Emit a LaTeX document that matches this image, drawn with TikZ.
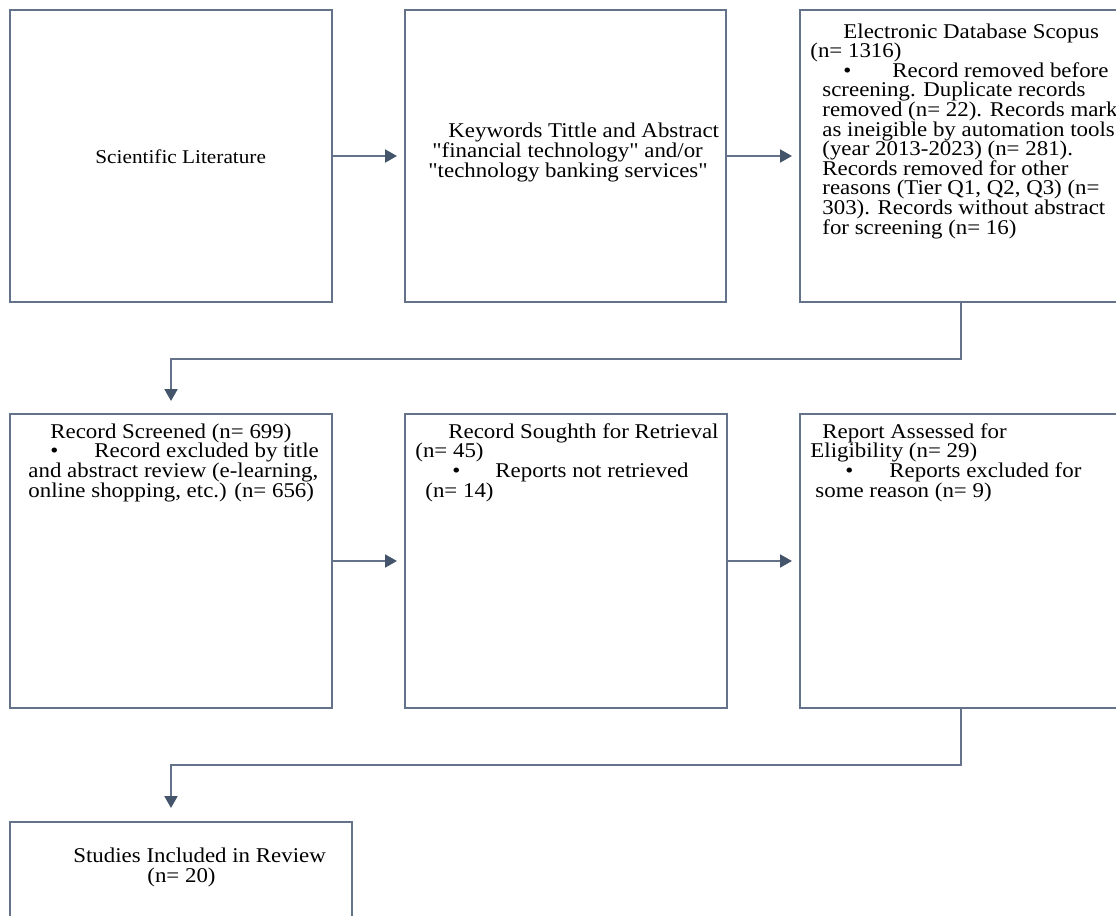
\documentclass[tikz,border=0pt]{standalone}
\usepackage{fontspec}
\setmainfont[FakeStretch=1.09,Ligatures=TeXOff]{Liberation Serif}
\usetikzlibrary{arrows.meta}
\definecolor{linegray}{HTML}{64738A}
\definecolor{tipgray}{HTML}{44546A}
\newcommand{\boxfont}{\fontsize{10.5}{9.8}\selectfont\lineskiplimit=-100pt\relax}

\begin{document}
\begin{tikzpicture}
  [x=0.5pt,y=-0.5pt,
   box/.style={draw=linegray, line width=1pt, inner sep=0pt},
   txt/.style={anchor=base west, align=left, inner sep=0pt, font=\boxfont},
   flow/.style={draw=linegray, line width=1pt,
     -{Triangle[length=6pt,width=6.5pt,color=tipgray]}}]
  \clip (0,0) rectangle (1116,916);

  % boxes
  \node[box, minimum width=161pt, minimum height=146pt] (lit) at (171,156) {};
  \node[box, minimum width=160.5pt, minimum height=146pt] (kw) at (565.5,156) {};
  \node[box, minimum width=161pt, minimum height=146pt] (scopus) at (961,156) {};
  \node[box, minimum width=161pt, minimum height=147pt] (screened) at (171,561) {};
  \node[box, minimum width=161pt, minimum height=147pt] (sought) at (566,561) {};
  \node[box, minimum width=161pt, minimum height=147pt] (assessed) at (961,561) {};
  \node[box, minimum width=171pt, minimum height=146pt] (included) at (181,968) {};

  % texts (anchored at the baseline of the last line)
  \node[txt, font=\fontsize{9.75}{9.8}\selectfont] (litT) at (95,163) {Scientific Literature};
  \node[txt] (kwT) at (448,177) {Keywords Tittle and Abstract\\
    \hspace*{-8pt}"financial technology" and/or\\
    \hspace*{-10pt}"technology banking services"};
  \node[txt] (scopusT) at (843,234) {Electronic Database Scopus\\
    \hspace*{-16.5pt}(n= 1316)\\
    \textbullet\hspace{20.5pt}Record removed before\\
    \hspace*{-10.5pt}screening. Duplicate records\\
    \hspace*{-10.5pt}removed (n= 22). Records mark\\
    \hspace*{-10.5pt}as ineigible by automation tools\\
    \hspace*{-10.5pt}(year 2013-2023) (n= 281).\\
    \hspace*{-10.5pt}Records removed for other\\
    \hspace*{-10.5pt}reasons (Tier Q1, Q2, Q3) (n=\\
    \hspace*{-10.5pt}303). Records without abstract\\
    \hspace*{-10.5pt}for screening (n= 16)};
  \node[txt] (screenedT) at (50,497) {Record Screened (n= 699)\\
    \hspace*{0pt}\textbullet\hspace{18pt}Record excluded by title\\
    \hspace*{-11pt}and abstract review (e-learning,\\
    \hspace*{-11pt}online shopping, etc.) (n= 656)};
  \node[txt] (soughtT) at (448,497) {Record Soughth for Retrieval\\
    \hspace*{-16.5pt}(n= 45)\\
    \hspace*{2pt}\textbullet\hspace{17.5pt}Reports not retrieved\\
    \hspace*{-11.5pt}(n= 14)};
  \node[txt] (assessedT) at (822,497) {Report Assessed for\\
    \hspace*{-6pt}Eligibility (n= 29)\\
    \hspace*{11.5pt}\textbullet\hspace{18pt}Reports excluded for\\
    \hspace*{-3.5pt}some reason (n= 9)};
  \node[txt] (includedT) at (73,882) {Studies Included in Review\\
    \hspace*{37pt}(n= 20)};

  % bends
  \coordinate (b1) at (961,359);
  \coordinate (b2) at (171,359);
  \coordinate (b3) at (961,765);
  \coordinate (b4) at (171,765);
  \coordinate (inTop) at (171,822);

  \foreach \from / \to in {lit/kw, kw/scopus, screened/sought, sought/assessed}
    \draw[flow, shorten >=3.5pt] (\from.east) -- (\to.west);
  \draw[flow, shorten >=6pt] (scopus.south) -- (b1) -- (b2) -- (screened.north);
  \draw[flow, shorten >=7pt] (assessed.south) -- (b3) -- (b4) -- (inTop);

\end{tikzpicture}
\end{document}
